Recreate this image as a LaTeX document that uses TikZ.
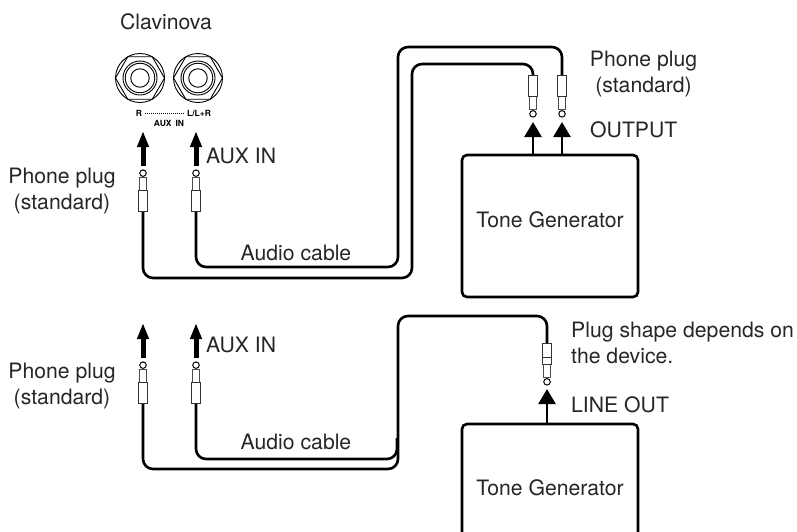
\documentclass[tikz,border=0pt]{standalone}
\usepackage{fontspec}
\setmainfont{TeX Gyre Heros}
\usepackage{xcolor}
\usetikzlibrary{arrows.meta,shapes.geometric}

\begin{document}
\begin{tikzpicture}[x=1pt, y=-1pt,
  every node/.style={font=\fontsize{21.2}{26}\selectfont, text=black!85, inner sep=0pt},
  box/.style={draw=black, fill=white, line width=2.6pt, rounded corners=5pt, minimum width=176pt},
  note/.style={align=center},
  side/.style={align=left, anchor=west},
  tiny/.style={font=\fontsize{8.5}{10}\bfseries\selectfont, text=black},
  cable/.style={draw=black, line width=2.6pt, rounded corners=10pt},
  arrow/.style={-{Triangle[length=15pt, width=17pt]}, line width=2.6pt},
  auxarrow/.style={-{Triangle[length=16pt, width=11pt]}, line width=5pt},
  ring/.style={circle, draw=black, line width=.9pt},
  plugbody/.style={draw=black!80, fill=white, line width=1.1pt, minimum width=9pt, minimum height=21pt},
  plugsleeve/.style={draw=black!70, fill=white, line width=1.1pt, minimum width=6.5pt, minimum height=14pt},
  plugtip/.style={circle, draw=black, fill=white, line width=1pt, minimum size=6.5pt},
  jack/.pic={
    \node[ring, minimum size=49pt] (-outer) at (0,0) {};
    \node[regular polygon, regular polygon sides=6, draw=black, line width=.9pt, minimum size=49pt] (-nut) at (0,0) {};
    \node[ring, minimum size=34pt] (-collar) at (0,0) {};
    \node[ring, minimum size=29.5pt] (-inner) at (0,0) {};
    \node[ring, minimum size=18.5pt] (-hole) at (0,0) {};
  },
  plugup/.pic={
    \node[plugsleeve, anchor=south] (-sleeve) at (0,-20) {};
    \node[plugtip, anchor=south] (-tip) at (-sleeve.north) {};
    \node[plugbody, anchor=south] (-body) at (0,0) {};
  },
  plugdown/.pic={
    \node[plugsleeve, anchor=north] (-sleeve) at (0,20) {};
    \node[plugtip, anchor=north] (-tip) at (-sleeve.south) {};
    \node[plugbody, anchor=north] (-body) at (0,0) {};
  }
]
\useasboundingbox (0,0) rectangle (797,531);

% upper connection
\node (clavinova) at (166,21.5) {Clavinova};
\pic (jackR) at (140,78) {jack};
\pic (jackL) at (198,78) {jack};
\node[tiny] (labelR) at (139,113) {R};
\node[tiny] (labelL) at (199,113) {L/L+R};
\node[tiny] (labelAux) at (169,123) {AUX\hspace{4pt}IN};
\draw[densely dotted, line width=1pt] ([xshift=3pt]labelR.east) -- ([xshift=-3pt]labelL.west);

\node[box, minimum height=142pt, text depth=12pt] (tone) at (550,226) {Tone Generator};
\pic (plugA) at (143,212) {plugup};
\pic (plugB) at (196,212) {plugup};
\pic (plugC) at (533,75) {plugdown};
\pic (plugD) at (562,75) {plugdown};

\draw[cable] (plugA-body.south) |- (412,278) -- (412,64) -| (plugC-body.north);
\draw[cable] (plugB-body.south) |- (398,267) -- (398,47) -| (plugD-body.north);

\coordinate (tipA) at (143,131);
\coordinate (tipB) at (196,131);
\coordinate (tipC) at (533,122);
\coordinate (tipD) at (562,122);
\draw[auxarrow] (tipA |- 0,166) -- (tipA);
\draw[auxarrow] (tipB |- 0,166) -- (tipB);
\draw[arrow] (tone.north -| tipC) -- (tipC);
\draw[arrow] (tone.north -| tipD) -- (tipD);

\node[side] (auxIn) at (206,156) {AUX IN};
\node[note] (phoneA) at (62,191) {Phone plug\\(standard)};
\node (cableA) at (296,253) {Audio cable};
\node[note] (phoneB) at (643.5,74) {Phone plug\\(standard)};
\node[side] (output) at (590,130) {OUTPUT};

% lower connection
\node[box, minimum height=128pt] (toneLow) at (550,488) {Tone Generator};
\pic (plugE) at (143,404) {plugup};
\pic (plugF) at (196,404) {plugup};
\pic (plugG) at (547,343) {plugdown};
\draw[line width=.8pt, draw=black!80] ([yshift=6pt]plugG-sleeve.north west) -- ([yshift=6pt]plugG-sleeve.north east);

\draw[cable] (plugE-body.south) |- (398,469) -- (398,316) -| (plugG-body.north);
\draw[cable] (plugF-body.south) |- (397,459) -- (397,438);

\coordinate (tipE) at (143,323);
\coordinate (tipF) at (196,323);
\coordinate (tipG) at (547,389);
\draw[auxarrow] (tipE |- 0,358) -- (tipE);
\draw[auxarrow] (tipF |- 0,358) -- (tipF);
\draw[arrow] (toneLow.north -| tipG) -- (tipG);

\node[side] (auxInLow) at (206,345) {AUX IN};
\node[note] (phoneC) at (62,386) {Phone plug\\(standard)};
\node (cableB) at (296,442) {Audio cable};
\node[side] (shape) at (571,343) {Plug shape depends on\\the device.};
\node[side] (lineOut) at (571,405) {LINE OUT};
\end{tikzpicture}
\end{document}
